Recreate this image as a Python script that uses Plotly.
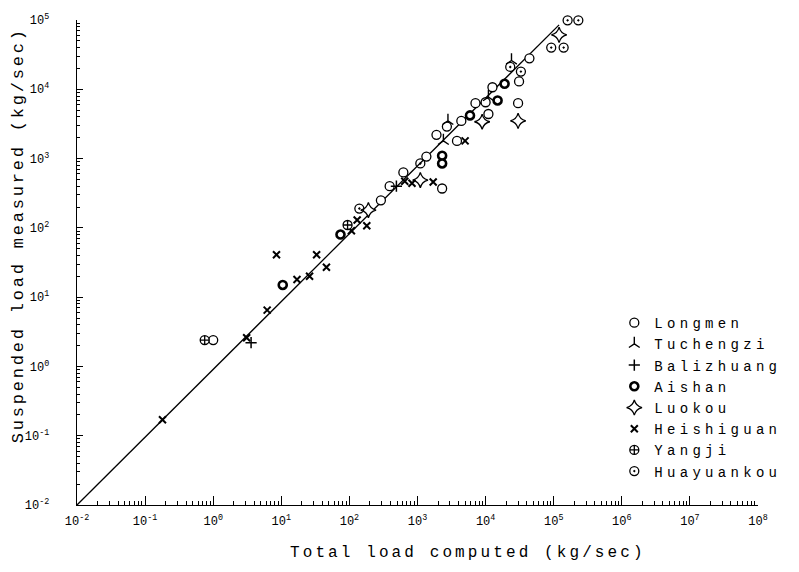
import plotly.graph_objects as go

# ---------------- data ----------------
decades = [1e-2, 1e-1, 1e0, 1e1, 1e2, 1e3, 1e4, 1e5, 1e6, 1e7, 1e8]
x_tick_text = ["10<sup>-2</sup>", "10<sup>-1</sup>", "10<sup>0</sup>", "10<sup>1</sup>",
               "10<sup>2</sup>", "10<sup>3</sup>", "10<sup>4</sup>", "10<sup>5</sup>",
               "10<sup>6</sup>", "10<sup>7</sup>", "10<sup>8</sup>"]
y_decades = [1e-2, 1e-1, 1e0, 1e1, 1e2, 1e3, 1e4, 1e5]
y_tick_text = [t + "\u00a0" for t in x_tick_text[:8]]

line_x = [0.01, 1.2e5]
line_y = [0.01, 8.5e4]

longmen_x = [1.0, 290, 390, 620, 1.35e3, 2.3e3, 1.9e3, 2.7e3, 3.8e3, 4.4e3, 7.1e3, 1.0e4, 1.1e4, 1.26e4, 3.1e4, 3.0e4, 4.4e4]
longmen_y = [2.4, 250, 400, 630, 1.07e3, 3.7e2, 2.2e3, 2.9e3, 1.8e3, 3.5e3, 6.3e3, 6.5e3, 4.4e3, 1.07e4, 1.3e4, 6.3e3, 2.8e4]

tuchengzi_x = [2.4e4, 2.4e3, 1.1e4, 2.8e3]
tuchengzi_y = [2.6e4, 1.8e3, 7.7e3, 3.5e3]

balizhuang_x = [3.6, 490]
balizhuang_y = [2.2, 400]

aishan_x = [10.5, 74, 1.9e4, 5.9e3, 2.3e3, 2.3e3, 1.5e4]
aishan_y = [15, 80, 1.2e4, 4.2e3, 1.1e3, 8.5e2, 6.9e3]

luokou_x = [1.2e5, 3.0e4, 8.9e3, 1.1e3, 190]
luokou_y = [6.1e4, 3.5e3, 3.4e3, 4.9e2, 180]

heishiguan_x = [0.18, 3.1, 6.2, 8.5, 17, 26, 33, 46, 107, 130, 180, 650, 830, 1.7e3, 5.0e3]
heishiguan_y = [0.17, 2.6, 6.5, 41, 18, 20, 41, 27, 91, 130, 107, 470, 440, 4.6e2, 1.8e3]

yangji_x = [0.75, 94]
yangji_y = [2.4, 110]

huayuankou_x = [1.6e5, 2.3e5, 9.2e4, 1.4e5, 2.3e4, 3.3e4, 1.1e3, 140]
huayuankou_y = [0.99e5, 0.99e5, 4.0e4, 4.0e4, 2.1e4, 1.8e4, 8.5e2, 190]

minor_vals = [k * d for d in decades[:-1] for k in range(2, 10)]

FONT = "Liberation Mono"


def spaced(text, px):
    return '<span style="letter-spacing:%spx">%s</span>' % (px, text)


fig = go.Figure()
fig.add_trace(go.Scatter(x=line_x, y=line_y, mode="lines",
                         line=dict(color="black", width=1.3), showlegend=False,
                         hoverinfo="skip"))


def add_series(name, xs, ys, symbol, size, color="white", lw=1.3):
    fig.add_trace(go.Scatter(
        x=xs, y=ys, mode="markers", name=spaced(name, 4.3), cliponaxis=False,
        marker=dict(symbol=symbol, size=size, color=color,
                    line=dict(color="black", width=lw))))


add_series("Longmen", longmen_x, longmen_y, "circle", 9)
add_series("Tuchengzi", tuchengzi_x, tuchengzi_y, "y-up-open", 9, color="black", lw=1.4)
add_series("Balizhuang", balizhuang_x, balizhuang_y, "cross-thin-open", 8, color="black", lw=1.5)
add_series("Aishan", aishan_x, aishan_y, "circle", 8, lw=2.6)
add_series("Luokou", luokou_x, luokou_y, "star-diamond", 11, lw=1.3)
add_series("Heishiguan", heishiguan_x, heishiguan_y, "x-thin-open", 7, color="black", lw=2)
add_series("Yangji", yangji_x, yangji_y, "circle-cross", 9, lw=1.3)
add_series("Huayuankou", huayuankou_x, huayuankou_y, "circle-open-dot", 9, color="black", lw=1.3)

axis_common = dict(
    type="log", showline=True, linecolor="black", linewidth=1.3,
    ticks="inside", tickcolor="black", tickwidth=1,
    showgrid=False, zeroline=False, mirror=False,
    tickfont=dict(family=FONT, size=12, color="black"),
)

fig.update_xaxes(range=[-2, 8], tickmode="array", tickvals=decades, ticktext=x_tick_text,
                 ticklen=9, ticklabelstandoff=4,
                 minor=dict(tickmode="array", tickvals=minor_vals, ticks="inside",
                            ticklen=4, tickcolor="black", tickwidth=1, showgrid=False),
                 **axis_common)
fig.update_yaxes(range=[-2, 5], tickmode="array", tickvals=y_decades, ticktext=y_tick_text,
                 ticklen=6, ticklabelstandoff=17,
                 minor=dict(tickmode="array", tickvals=[v for v in minor_vals if v < 1e5],
                            ticks="inside", ticklen=3, tickcolor="black", tickwidth=1,
                            showgrid=False),
                 **axis_common)

fig.update_layout(
    width=799, height=572,
    margin=dict(l=77, r=39, t=15, b=67),
    paper_bgcolor="white", plot_bgcolor="white",
    font=dict(family=FONT, color="black"),
    legend=dict(x=0.789, y=0.408, xanchor="left", yanchor="top",
                font=dict(family=FONT, size=14, color="black"),
                bgcolor="rgba(0,0,0,0)", tracegroupgap=0),
    annotations=[
        dict(text=spaced("Total load computed (kg/sec)", 3.1), xref="paper", yref="paper",
             x=0.574, y=-0.098, xanchor="center", yanchor="middle", showarrow=False,
             font=dict(family=FONT, size=16, color="black")),
        dict(text=spaced("Suspended load measured (kg/sec)", 2.8), xref="paper", yref="paper",
             x=-0.086, y=0.557, xanchor="center", yanchor="middle", showarrow=False,
             textangle=-90, font=dict(family=FONT, size=17, color="black")),
    ],
)

fig.write_html("out.html")
